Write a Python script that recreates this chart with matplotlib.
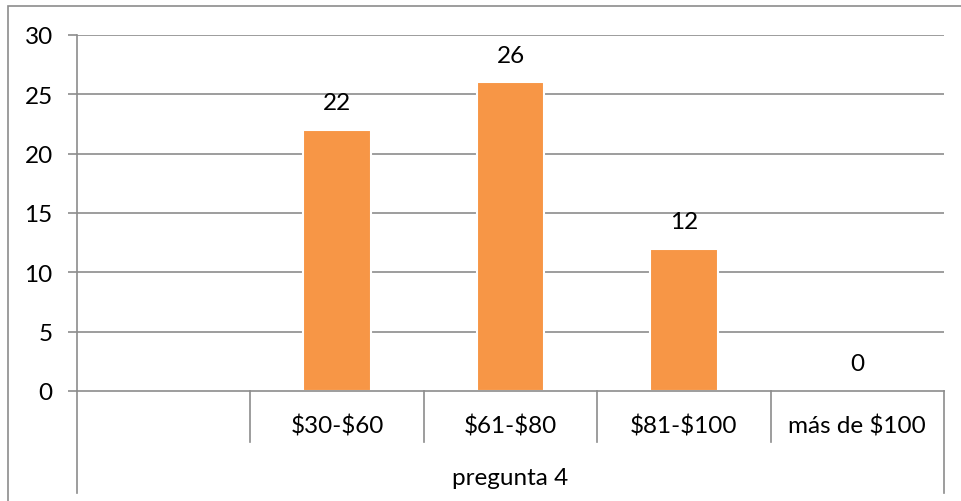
import matplotlib
matplotlib.use('Agg')
import matplotlib.pyplot as plt
from matplotlib.patches import Rectangle
import matplotlib.transforms as mtransforms

categories = ['', '$30-$60', '$61-$80', '$81-$100', 'más de $100']
values = [None, 22, 26, 12, 0]
group_label = 'pregunta 4'
yticks = [0, 5, 10, 15, 20, 25, 30]

plt.rcParams['font.family'] = ['Lato', 'DejaVu Sans']
plt.rcParams['text.parse_math'] = False
gray = '#8c8c8c'
orange = '#f79646'
fs = 17.5

W, H = 961, 502
fig = plt.figure(figsize=(W / 100, H / 100), dpi=100)
ax = fig.add_axes([77 / W, 1 - 392 / H, (944 - 77) / W, (392 - 36) / H])

# chart border (left and top visible)
fig.patches.append(Rectangle((7.5 / W, -0.1), 1.2, 1.1 - 6.5 / H, transform=fig.transFigure,
                             fill=False, edgecolor=gray, lw=1.2))

xs = [i + 0.5 for i in range(len(categories))]
for x, v in zip(xs, values):
    if v is None:
        continue
    ax.bar(x, v, width=0.39, color=orange, edgecolor='white', lw=1.5, zorder=2)
    ax.annotate(str(v), (x, v), xytext=(0, 19.5), textcoords='offset points',
                ha='center', va='center', fontsize=fs, color='black')

ax.set_xlim(0, len(categories))
ax.set_ylim(0, 30)
ax.set_yticks(yticks)
ax.set_xticks([])
for y in yticks[1:]:
    ax.axhline(y, color=gray, lw=1.2, zorder=1)

for s in ['top', 'right']:
    ax.spines[s].set_visible(False)
ax.spines['left'].set_color(gray)
ax.spines['left'].set_linewidth(1.2)
ax.spines['bottom'].set_color(gray)
ax.spines['bottom'].set_linewidth(1.2)
ax.spines['bottom'].set_zorder(4)
ax.tick_params(axis='y', length=6.5, width=1.2, color=gray, pad=11, labelsize=fs)

trans = mtransforms.blended_transform_factory(ax.transData, ax.transAxes)
# category separators
for i in range(1, len(categories)):
    ax.plot([i, i], [0, -0.143], transform=trans, color=gray, lw=1.2, clip_on=False)
# outer lines of the group row
for i in [0, len(categories)]:
    ax.plot([i, i], [0, -0.287], transform=trans, color=gray, lw=1.2, clip_on=False)

for x, c in zip(xs, categories):
    ax.text(x, -0.098, c, transform=trans, ha='center', va='center', fontsize=fs)
ax.text(len(categories) / 2, -0.242, group_label, transform=trans, ha='center', va='center', fontsize=fs)

fig.savefig('out.png', dpi=100)
